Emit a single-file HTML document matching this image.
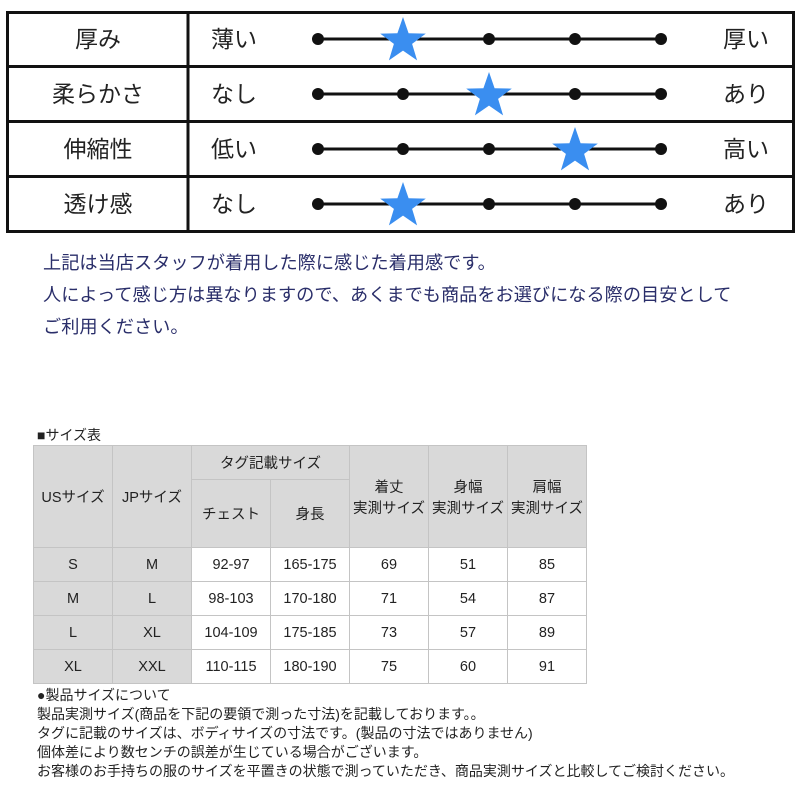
<!DOCTYPE html>
<html><head><meta charset="utf-8"><style>
body{margin:0;width:800px;height:800px;background:#fff;position:relative;overflow:hidden;font-family:"Liberation Sans","Noto Sans CJK JP",sans-serif;}
.a{position:absolute;white-space:nowrap;}
table{position:absolute;left:33px;top:445px;border-collapse:collapse;font-size:14.5px;color:#222;}
td{border:1px solid #c4c4c4;text-align:center;padding:0;width:78px;}
.g{background:#d9d9d9;}
</style></head><body>
<svg class="a" style="left:0;top:0" width="800" height="240">
<rect x="7.5" y="12.5" width="786" height="219" fill="none" stroke="#111" stroke-width="3"/>
<line x1="7" y1="66.5" x2="794" y2="66.5" stroke="#111" stroke-width="3"/>
<line x1="7" y1="121.5" x2="794" y2="121.5" stroke="#111" stroke-width="3"/>
<line x1="7" y1="176.5" x2="794" y2="176.5" stroke="#111" stroke-width="3"/>
<line x1="188" y1="12" x2="188" y2="232" stroke="#111" stroke-width="3"/>
<g stroke="#111" stroke-width="3">
<line x1="318" y1="39" x2="661" y2="39"/><line x1="318" y1="94" x2="661" y2="94"/>
<line x1="318" y1="149" x2="661" y2="149"/><line x1="318" y1="204" x2="661" y2="204"/></g>
<g fill="#111">
<circle cx="318" cy="39" r="6"/><circle cx="489" cy="39" r="6"/><circle cx="575" cy="39" r="6"/><circle cx="661" cy="39" r="6"/>
<circle cx="318" cy="94" r="6"/><circle cx="403" cy="94" r="6"/><circle cx="575" cy="94" r="6"/><circle cx="661" cy="94" r="6"/>
<circle cx="318" cy="149" r="6"/><circle cx="403" cy="149" r="6"/><circle cx="489" cy="149" r="6"/><circle cx="661" cy="149" r="6"/>
<circle cx="318" cy="204" r="6"/><circle cx="489" cy="204" r="6"/><circle cx="575" cy="204" r="6"/><circle cx="661" cy="204" r="6"/>
</g>
<defs><polygon id="s" fill="#3a8ef0" points="0,-24 5.6,-7.7 22.8,-7.4 9.1,2.9 14.1,19.4 0,9.6 -14.1,19.4 -9.1,2.9 -22.8,-7.4 -5.6,-7.7"/></defs>
<use href="#s" x="403" y="41"/><use href="#s" x="489" y="96"/><use href="#s" x="575" y="151"/><use href="#s" x="403" y="206"/>
<g font-size="23" fill="#222" text-anchor="middle" font-family="Liberation Sans, Noto Sans CJK JP, sans-serif">
<text x="98" y="47">厚み</text><text x="98" y="102">柔らかさ</text><text x="98" y="157">伸縮性</text><text x="98" y="212">透け感</text>
<text x="234" y="47">薄い</text><text x="234" y="102">なし</text><text x="234" y="157">低い</text><text x="234" y="212">なし</text>
<text x="746" y="47">厚い</text><text x="746" y="102">あり</text><text x="746" y="157">高い</text><text x="746" y="212">あり</text>
</g></svg>
<div class="a" style="left:43px;top:247px;font-size:18.2px;line-height:32px;color:#2a2e6a;">上記は当店スタッフが着用した際に感じた着用感です。<br>人によって感じ方は異なりますので、あくまでも商品をお選びになる際の目安として<br>ご利用ください。</div>
<div class="a" style="left:37px;top:425px;font-size:14px;color:#222;">■サイズ表</div>
<table>
<tr style="height:34px"><td class="g" rowspan="2">USサイズ</td><td class="g" rowspan="2">JPサイズ</td><td class="g" colspan="2">タグ記載サイズ</td><td class="g" rowspan="2">着丈<br>実測サイズ</td><td class="g" rowspan="2">身幅<br>実測サイズ</td><td class="g" rowspan="2">肩幅<br>実測サイズ</td></tr>
<tr style="height:68px"><td class="g">チェスト</td><td class="g">身長</td></tr>
<tr style="height:34px"><td class="g">S</td><td class="g">M</td><td>92-97</td><td>165-175</td><td>69</td><td>51</td><td>85</td></tr>
<tr style="height:34px"><td class="g">M</td><td class="g">L</td><td>98-103</td><td>170-180</td><td>71</td><td>54</td><td>87</td></tr>
<tr style="height:34px"><td class="g">L</td><td class="g">XL</td><td>104-109</td><td>175-185</td><td>73</td><td>57</td><td>89</td></tr>
<tr style="height:34px"><td class="g">XL</td><td class="g">XXL</td><td>110-115</td><td>180-190</td><td>75</td><td>60</td><td>91</td></tr>
</table>
<div class="a" style="left:37px;top:686px;font-size:14px;line-height:19px;color:#222;">●製品サイズについて<br>製品実測サイズ(商品を下記の要領で測った寸法)を記載しております。。<br>タグに記載のサイズは、ボディサイズの寸法です。(製品の寸法ではありません)<br>個体差により数センチの誤差が生じている場合がございます。<br>お客様のお手持ちの服のサイズを平置きの状態で測っていただき、商品実測サイズと比較してご検討ください。</div>
</body></html>
